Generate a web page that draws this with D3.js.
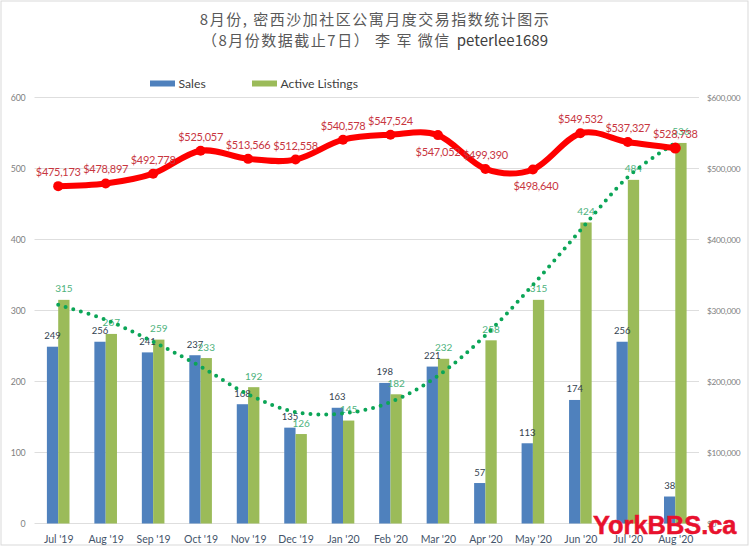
<!DOCTYPE html>
<html>
<head>
<meta charset="utf-8">
<script src="https://cdnjs.cloudflare.com/ajax/libs/d3/7.8.5/d3.min.js"></script>
<style>
  html, body { margin:0; padding:0; background:#fff; }
  svg { display:block; }
  text { font-family:Lato, "Noto Sans CJK SC", sans-serif; }
  .title { font-family:"Noto Sans CJK SC", sans-serif; font-size:15px; fill:#595959; letter-spacing:1.5px; }
</style>
</head>
<body>
<div id="chart"></div>
<script>
var months = ["Jul '19","Aug '19","Sep '19","Oct '19","Nov '19","Dec '19","Jan '20","Feb '20","Mar '20","Apr '20","May '20","Jun '20","Jul '20","Aug '20"];
var sales = [249,256,241,237,168,135,163,198,221,57,113,174,256,38];
var listings = [315,267,259,233,192,126,145,182,232,258,315,424,484,536];
var prices = [475173,478897,492778,525057,513566,512558,540578,547524,547052,499390,498640,549532,537327,528738];
// dotted trendline of the listings
var listingsTrend = [308,287,256,221,182,157,155,171,208,265,336,413,488,536];
var countTicks = [0,100,200,300,400,500,600];
var priceTicks = [0,100000,200000,300000,400000,500000,600000];
var titleLines = ["8月份, 密西沙加社区公寓月度交易指数统计图示","（8月份数据截止7日） 李 军 微信"];
var titleWechat = "peterlee1689";
var priceLabelsBelow = ["Mar '20","May '20"];

var svgW = 750, svgH = 547,
    left = 34.5, right = 699, top_ = 97.5, bottom = 523.5,
    barW = 11.3;

var svg = d3.select("#chart").append("svg")
  .attr("width", svgW)
  .attr("height", svgH);

svg.append("rect")
  .attr("x", 1).attr("y", 1)
  .attr("width", svgW-3).attr("height", svgH-3)
  .attr("fill", "#fff").attr("stroke", "#d9d9d9");

var x = d3.scalePoint().domain(months).range([left+23.7, right-23.7]);
var yCount = d3.scaleLinear().domain([0,600]).range([bottom, top_]);
var yPrice = d3.scaleLinear().domain([0,600000]).range([bottom, top_]);

// grid
svg.append("g").selectAll("line")
  .data(countTicks)
  .enter().append("line")
    .attr("x1", left).attr("x2", right)
    .attr("y1", function(d){ return yCount(d); })
    .attr("y2", function(d){ return yCount(d); })
    .attr("stroke", "#dedede");

// axes
function styleAxis(g, size, color, spacing) {
  g.select(".domain").remove();
  g.selectAll("text")
    .attr("font-size", size)
    .attr("fill", color)
    .attr("letter-spacing", spacing)
    .style("font-family", "Lato");
}
svg.append("g")
  .attr("transform", "translate(" + (left-9) + ",0)")
  .call(d3.axisLeft(yCount).tickValues(countTicks).tickSize(0).tickPadding(0))
  .call(styleAxis, 8.8, "#7f7f7f", -0.2);
svg.append("g")
  .attr("transform", "translate(" + (right+8) + ",0)")
  .call(d3.axisRight(yPrice).tickValues(priceTicks).tickSize(0).tickPadding(0).tickFormat(d3.format("$,")))
  .call(styleAxis, 8.3, "#7f7f7f", -0.3);
svg.append("g")
  .attr("transform", "translate(0," + (bottom+12) + ")")
  .call(d3.axisBottom(x).tickSize(0).tickPadding(0))
  .call(styleAxis, 10.5, "#44546a", 0);

// bars
svg.append("g").selectAll("rect")
  .data(sales)
  .enter().append("rect")
    .attr("x", function(d,i){ return x(months[i])-barW; })
    .attr("y", function(d){ return yCount(d); })
    .attr("width", barW)
    .attr("height", function(d){ return bottom-yCount(d); })
    .attr("fill", "#4f81bd");
svg.append("g").selectAll("rect")
  .data(listings)
  .enter().append("rect")
    .attr("x", function(d,i){ return x(months[i]); })
    .attr("y", function(d){ return yCount(d); })
    .attr("width", barW)
    .attr("height", function(d){ return bottom-yCount(d); })
    .attr("fill", "#9bbb59");

// bar labels
svg.append("g").selectAll("text")
  .data(sales)
  .enter().append("text")
    .attr("x", function(d,i){ return x(months[i])-barW/2; })
    .attr("y", function(d){ return yCount(d)-7.5; })
    .attr("text-anchor", "middle")
    .attr("font-size", 9.5)
    .attr("fill", "#333f50")
    .text(function(d){ return d; });
svg.append("g").selectAll("text")
  .data(listings)
  .enter().append("text")
    .attr("x", function(d,i){ return x(months[i])+barW/2; })
    .attr("y", function(d){ return yCount(d)-7.5; })
    .attr("text-anchor", "middle")
    .attr("font-size", 10)
    .attr("fill", "#4db27c")
    .text(function(d){ return d; });

// trendline
var trendLine = d3.line()
  .x(function(d,i){ return x(months[i]); })
  .y(function(d){ return yCount(d); })
  .curve(d3.curveCardinal.tension(0));
svg.append("path")
  .datum(listingsTrend)
  .attr("d", trendLine)
  .attr("fill", "none")
  .attr("stroke", "#0ba557")
  .attr("stroke-width", 4)
  .attr("stroke-linecap", "round")
  .attr("stroke-dasharray", "0 7.9");

// price line
var priceLine = d3.line()
  .x(function(d,i){ return x(months[i]); })
  .y(function(d){ return yPrice(d); })
  .curve(d3.curveCardinal.tension(0));
svg.append("path")
  .datum(prices)
  .attr("d", priceLine)
  .attr("fill", "none")
  .attr("stroke", "#fe0000")
  .attr("stroke-width", 6)
  .attr("stroke-linejoin", "round");
svg.append("g").selectAll("circle")
  .data(prices)
  .enter().append("circle")
    .attr("cx", function(d,i){ return x(months[i]); })
    .attr("cy", function(d){ return yPrice(d); })
    .attr("r", function(d,i){ return i == prices.length-1 ? 5.5 : 5; })
    .attr("fill", "#fe0000");

svg.append("g").selectAll("text")
  .data(prices)
  .enter().append("text")
    .attr("x", function(d,i){ return x(months[i]) + (months[i] == "May '20" ? 3 : 0); })
    .attr("y", function(d,i){
      return yPrice(d) + (priceLabelsBelow.indexOf(months[i]) > -1 ? 21 : -10);
    })
    .attr("text-anchor", "middle")
    .attr("font-size", 11)
    .attr("letter-spacing", -0.3)
    .attr("fill", "#c8363f")
    .text(function(d){ return d3.format("$,")(d); });

// legend
var legendItems = [{l:"Sales", c:"#4f81bd", x:150},{l:"Active Listings", c:"#9bbb59", x:252}];
legendItems.forEach(function(d){
  svg.append("rect").attr("x", d.x).attr("y", 80.5).attr("width", 25).attr("height", 6).attr("fill", d.c);
  svg.append("text").attr("x", d.x+28.5).attr("y", 87.5).attr("font-size", 12.2).attr("fill", "#404040").text(d.l);
});

// title
var titles = svg.append("g").selectAll("text")
  .data(titleLines)
  .enter().append("text")
    .attr("class", "title")
    .attr("x", 375)
    .attr("y", function(d,i){ return 25+i*21; })
    .attr("text-anchor", "middle")
    .text(function(d){ return d; });
titles.filter(function(d,i){ return i == 1; })
  .append("tspan")
    .attr("dx", 6)
    .attr("letter-spacing", 0)
    .attr("fill", "#404040")
    .text(titleWechat);

// watermark
svg.append("text")
  .attr("x", 593).attr("y", 533.5)
  .attr("font-size", 25.4)
  .attr("font-weight", "bold")
  .attr("fill", "#e8112d")
  .attr("stroke", "#e8112d")
  .attr("stroke-width", 0.5)
  .style("font-family", "'Liberation Sans'")
  .text("YorkBBS.ca");
</script>
</body>
</html>
